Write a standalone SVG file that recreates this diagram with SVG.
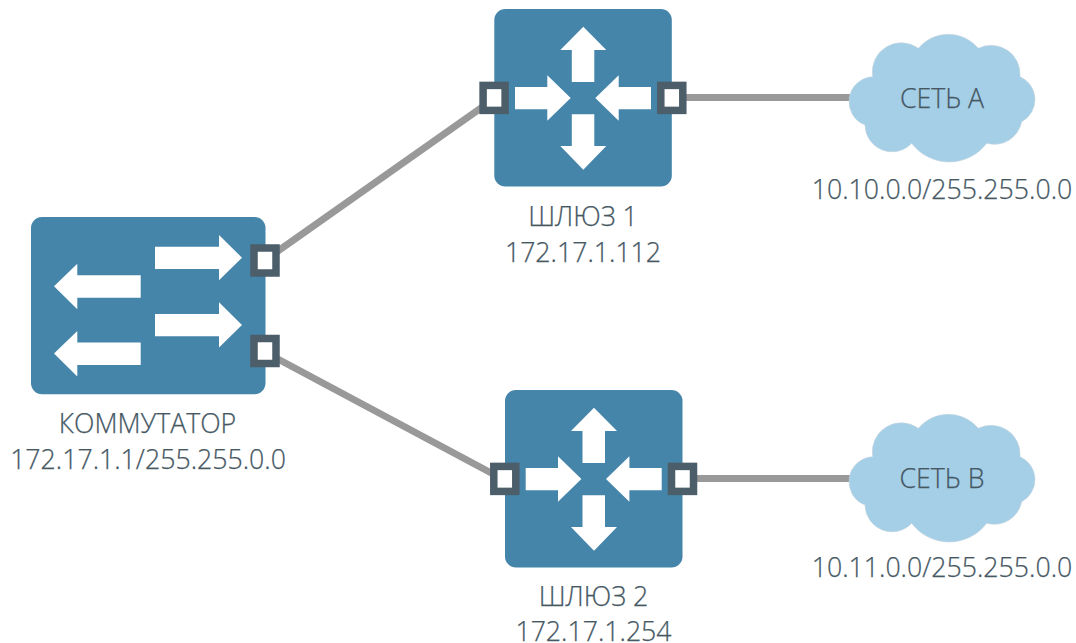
<svg xmlns="http://www.w3.org/2000/svg" xmlns:xlink="http://www.w3.org/1999/xlink" width="1076" height="643" viewBox="0 0 1076 643">
<style>
.body{fill:#4585aa}
.arrow{fill:#fff}
.port{fill:#fff;stroke:#4c5e6a;stroke-width:7.5}
.link{stroke:#999;stroke-width:7;fill:none}
.cloud{fill:#a5cfe7;stroke:#c2d3de;stroke-width:.6}
text{font-family:"Open Sans","Noto Sans",sans-serif;font-size:26.7px;font-weight:300;fill:#465864;stroke:#465864;stroke-width:.25;text-anchor:middle}
</style>
<defs>
<g id="router">
<rect class="body" x="0" y="0" width="177.5" height="177.5" rx="11"/>
<path class="arrow" d="M89 17.700L112 41H100V73H77.500V41H66Z"/>
<path class="arrow" d="M89 160.700L112 137H100V105.300H77.500V137H66Z"/>
<path class="arrow" d="M20.700 78H53V66.300L76.400 89L53 111.700V100.300H20.700Z"/>
<path class="arrow" d="M156.700 78H124.400V66.300L101 89L124.400 111.700V100.300H156.700Z"/>
<rect class="port" x="-11.200" y="76.400" width="22" height="25"/>
<rect class="port" x="166.500" y="76.400" width="22" height="25"/>
</g>
<path id="cloud" class="cloud" d="M32.700 51.700A29 29 0 0 1 78.300 23.300A39 39 0 0 1 138.300 23.300A29 29 0 0 1 180 51.700A25 25 0 0 1 181.700 96.700A28 28 0 0 1 146.700 118.300A47 47 0 0 1 71.700 118.300A27 27 0 0 1 25 100A25 25 0 0 1 32.700 51.700Z"/>
</defs>
<g id="connectors">
<path class="link" d="M276 252.300L484 105.900"/>
<path class="link" d="M276 358L495 475"/>
<path class="link" d="M682 97.500H852"/>
<path class="link" d="M692 478.500H852"/>
</g>
<g id="switch">
<rect class="body" x="31" y="217" width="234.500" height="177.300" rx="11"/>
<path class="arrow" d="M155 246.700H219V235L242 257.700L219 280.300V269H155Z"/>
<path class="arrow" d="M155 314H219V302.300L242 325L219 347.600V336.300H155Z"/>
<path class="arrow" d="M140.700 275.300H77.300V263.700L54 286.300L77.300 309.300V297.700H140.700Z"/>
<path class="arrow" d="M140.700 342.600H77.300V331L54 353.600L77.300 376.600V365H140.700Z"/>
<rect class="port" x="254" y="248" width="22" height="25"/>
<rect class="port" x="254" y="338.500" width="22" height="25"/>
<text x="147.500" y="432.500">КОММУТАТОР</text>
<text x="148" y="468.500">172.17.1.1/255.255.0.0</text>
</g>
<g id="gateway1">
<use xlink:href="#router" href="#router" x="494.300" y="9"/>
<text x="583" y="225.500">ШЛЮЗ 1</text>
<text x="583" y="261.500">172.17.1.112</text>
</g>
<g id="gateway2">
<use xlink:href="#router" href="#router" x="505" y="390"/>
<text x="593.500" y="605.500">ШЛЮЗ 2</text>
<text x="593.500" y="641">172.17.1.254</text>
</g>
<g id="netA">
<use xlink:href="#cloud" href="#cloud" x="840" y="25"/>
<text x="942" y="107.500">СЕТЬ А</text>
<text x="942" y="198.500">10.10.0.0/255.255.0.0</text>
</g>
<g id="netB">
<use xlink:href="#cloud" href="#cloud" x="840" y="405"/>
<text x="942" y="487.500">СЕТЬ В</text>
<text x="942" y="576.500">10.11.0.0/255.255.0.0</text>
</g>
</svg>
